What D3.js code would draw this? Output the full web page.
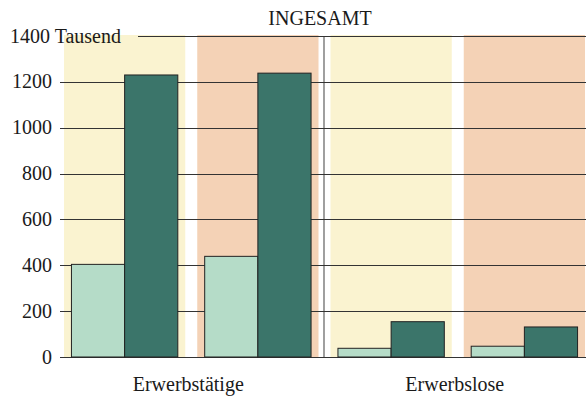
<!DOCTYPE html>
<html>
<head>
<meta charset="utf-8">
<script src="https://cdn.jsdelivr.net/npm/d3@7"></script>
<style>
  body { margin: 0; background: #fff; }
  text { font-family: "Liberation Serif", "DejaVu Serif", serif; fill: #1a1a1a; }
</style>
</head>
<body>
<div id="chart"></div>
<script>
let width = 586;
let height = 400;

// Data
var categories = ["Erwerbstätige", "Erwerbslose"];
var panels = ["Gruppe 1", "Gruppe 2"];
var series = ["hell", "dunkel"];
var lightValues = [[404, 439], [38, 47]];
var darkValues = [[1230, 1238], [154, 131]];
var yTicks = [0, 200, 400, 600, 800, 1000, 1200, 1400];
var panelColors = ["#FAF3D0", "#F4D2B6"];
var barColors = ["#B5DCC8", "#3B756A"];

let svg = d3.select("#chart").append("svg")
  .attr("width", width)
  .attr("height", height)

// scales
var y = d3.scaleLinear()
  .domain([0, 1400])
  .range([357, 36]);

var x0 = d3.scaleBand()
  .domain(categories)
  .range([58, 591]);

var x1 = d3.scaleBand()
  .domain(panels)
  .range([0, x0.bandwidth()])
  .paddingInner(0.09)
  .paddingOuter(0.045);

var x2 = d3.scaleBand()
  .domain(series)
  .range([0, x1.bandwidth()])
  .paddingOuter(0.14);

// background panels
categories.forEach(function (c) {
  svg.append("g")
    .selectAll("rect")
    .data(panels)
    .enter()
    .append("rect")
    .attr("x", function (p) { return x0(c) + x1(p); })
    .attr("y", y(1400) - 1)
    .attr("width", x1.bandwidth())
    .attr("height", y(0) - y(1400) + 1)
    .attr("fill", function (p, i) { return panelColors[i]; });
});

// separator between categories
svg.append("line")
  .attr("x1", x0(categories[1]) - 0.5)
  .attr("x2", x0(categories[1]) - 0.5)
  .attr("y1", y(1400))
  .attr("y2", y(0))
  .attr("stroke", "#888")
  .attr("stroke-width", 1.6);

// gridlines
svg.append("g")
  .selectAll("line")
  .data(yTicks)
  .enter()
  .append("line")
  .attr("x1", function (d) { return d === 1400 ? 138 : 60; })
  .attr("x2", width)
  .attr("y1", function (d) { return Math.round(y(d)) + 0.5; })
  .attr("y2", function (d) { return Math.round(y(d)) + 0.5; })
  .attr("stroke", "#333")
  .attr("stroke-width", 1.1);

// tick labels
svg.append("g")
  .selectAll("text")
  .data(yTicks)
  .enter()
  .append("text")
  .attr("x", function (d) { return d === 1400 ? 10 : 52; })
  .attr("y", function (d) { return y(d) + 6.5; })
  .attr("text-anchor", function (d) { return d === 1400 ? "start" : "end"; })
  .style("font-size", "20px")
  .text(function (d) { return d === 1400 ? "1400 Tausend" : d; });

// bars
categories.forEach(function (c, ci) {
  panels.forEach(function (p, pi) {
    var vals = [lightValues[ci][pi], darkValues[ci][pi]];
    svg.append("g")
      .selectAll("rect")
      .data(series)
      .enter()
      .append("rect")
      .attr("x", function (s) { return x0(c) + x1(p) + x2(s); })
      .attr("y", function (s, i) { return y(vals[i]); })
      .attr("width", x2.bandwidth())
      .attr("height", function (s, i) { return y(0) - y(vals[i]); })
      .attr("fill", function (s, i) { return barColors[i]; })
      .attr("stroke", "#222")
      .attr("stroke-width", 1);
  });
});

// category labels
svg.append("g")
  .selectAll("text")
  .data(categories)
  .enter()
  .append("text")
  .attr("x", function (d) { return x0(d) + x0.bandwidth() / 2 - 3; })
  .attr("y", 391)
  .attr("text-anchor", "middle")
  .style("font-size", "20px")
  .text(function (d) { return d; });

// title
svg.append("text")
  .attr("x", 320)
  .attr("y", 25)
  .attr("text-anchor", "middle")
  .style("font-size", "20px")
  .text("INGESAMT");
</script>
</body>
</html>
